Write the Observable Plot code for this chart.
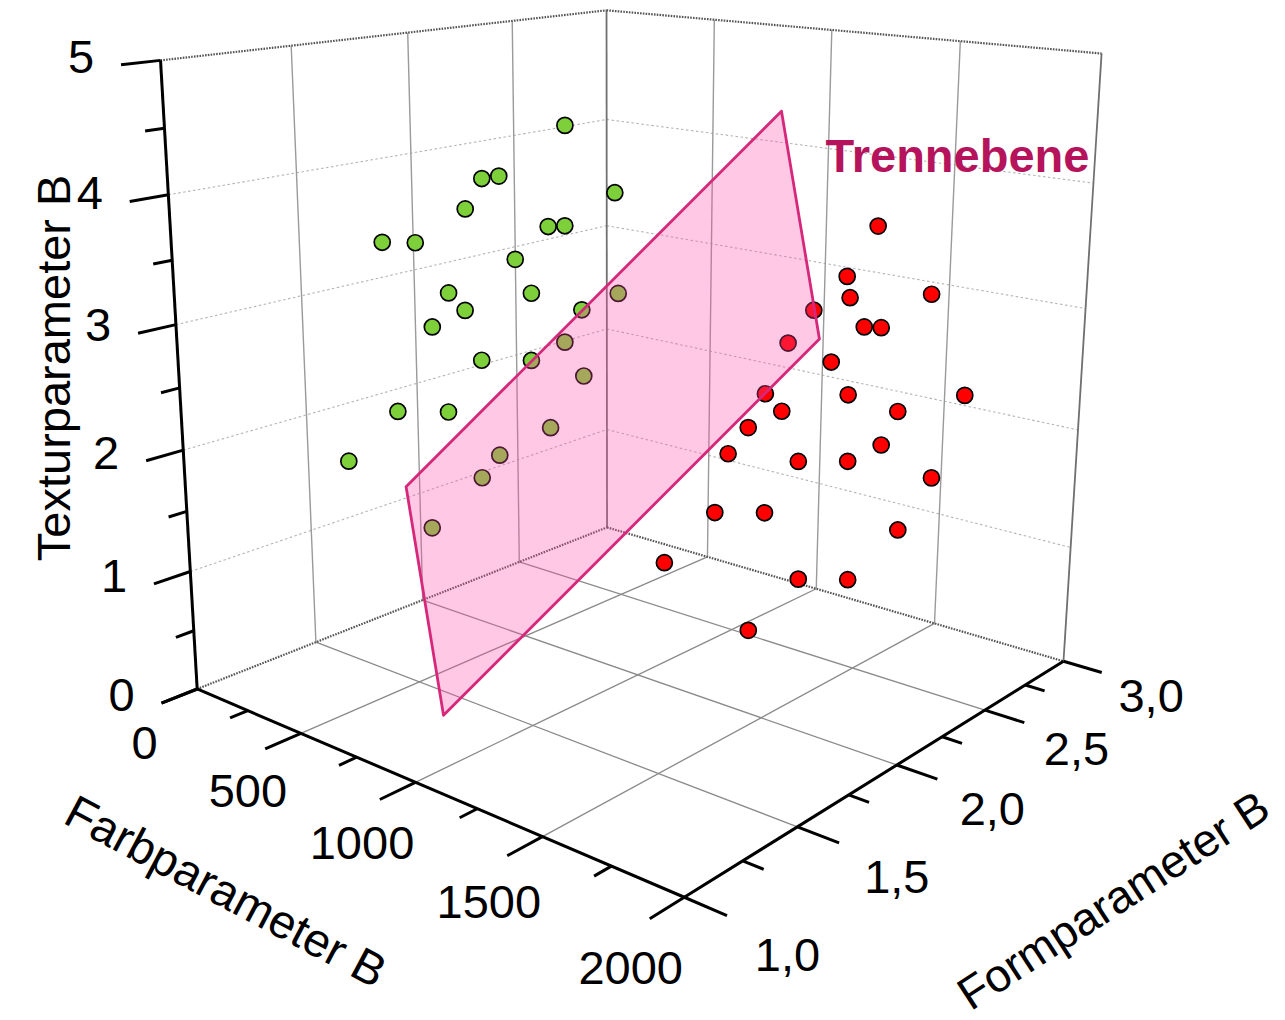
<!DOCTYPE html>
<html><head><meta charset="utf-8">
<script src="https://cdn.jsdelivr.net/npm/d3@7"></script>
<script src="https://cdn.jsdelivr.net/npm/@observablehq/plot@0.6"></script>
<style>html,body{margin:0;padding:0;background:#fff;} #chart svg{display:block}</style>
</head><body><div id="chart"></div>
<script>
// ---------------- data ----------------
const greenFarb   = [786, 624, 696, 901, 650, 805, 783, 496, 534, 760, 571, 732, 641, 852, 915, 599, 780, 610, 729, 859, 543, 559, 808, 682, 424, 603, 577];
const greenForm   = [1.9, 1.7, 1.7, 2.0, 1.6, 1.8, 1.9, 1.4, 1.5, 1.7, 1.6, 1.8, 1.6, 1.9, 2.0, 1.5, 1.9, 1.7, 1.8, 1.9, 1.4, 1.6, 1.8, 1.7, 1.3, 1.7, 1.5];
const greenTextur = [4.46, 4.07, 4.11, 3.94, 3.88, 3.72, 3.68, 3.65, 3.62, 3.49, 3.20, 3.17, 3.09, 3.04, 3.15, 2.99, 2.75, 2.63, 2.63, 2.51, 2.35, 2.24, 2.12, 1.89, 1.95, 1.66, 1.36];

const redFarb   = [1606, 1567, 1742, 1580, 1448, 1568, 1630, 1426, 1518, 1344, 1584, 1815, 1408, 1637, 1355, 1645, 1279, 1475, 1590, 1708, 1230, 1350, 1654, 1190, 1486, 1537, 1519];
const redForm   = [2.4, 2.3, 2.5, 2.3, 2.3, 2.4, 2.4, 2.2, 2.3, 2.2, 2.3, 2.6, 2.2, 2.5, 2.1, 2.4, 2.1, 2.2, 2.3, 2.6, 2.1, 2.2, 2.5, 1.9, 2.2, 2.4, 1.9];
const redTextur = [3.76, 3.40, 3.24, 3.24, 3.09, 2.96, 2.98, 2.87, 2.71, 2.43, 2.48, 2.42, 2.32, 2.26, 2.22, 2.05, 1.97, 1.95, 1.95, 1.69, 1.46, 1.46, 1.29, 1.16, 0.99, 0.87, 0.82];

// separating plane (Trennebene) corners
const planeFarb   = [996, 1123, 984, 799];
const planeForm   = [1, 1, 3, 3];
const planeTextur = [2.25, 0.62, 2.32, 4.27];

const farbTicks = [0, 500, 1000, 1500, 2000];
const farbTickLabels = ["0", "500", "1000", "1500", "2000"];
const formTicks = [1, 1.5, 2, 2.5, 3];
const formTickLabels = ["1,0", "1,5", "2,0", "2,5", "3,0"];
const texturTicks = [0, 1, 2, 3, 4, 5];
const texturTickLabels = ["0", "1", "2", "3", "4", "5"];
const farbMinor = [250, 750, 1250, 1750];
const formMinor = [1.25, 1.75, 2.25, 2.75];
const texturMinor = [0.5, 1.5, 2.5, 3.5, 4.5];

// ---------------- camera (perspective) ----------------
// calibration of the 3D box frame on the page: [Farb, Form, Textur, px, py]
const frame = [
 [0,1,0,196.7,688.5],[0,1,1,191,570],[0,1,2,183.7,449.3],[0,1,3,174.7,324],[0,1,4,166.7,194],[0,1,5,161,60],
 [500,1,0,299.3,734.3],[1000,1,0,415,782.7],[1500,1,0,542.7,836.7],[2000,1,0,683.3,896],
 [2000,1.5,0,795.7,826],[2000,2,0,896.7,764],[2000,2.5,0,985,709.3],[2000,3,0,1062.7,661],
 [0,3,0,606.7,526.7],[0,3,5,605.3,10],[2000,3,5,1101.7,53.3]
];
function solveCamera(pts){
  const A=[], b=[];
  for (const [X0,Y,Z,u0,v0] of pts){
    const X=X0/1000, u=u0/1000, v=v0/1000;
    A.push([X,Y,Z,1,0,0,0,0,-u*X,-u*Y,-u*Z]); b.push(u);
    A.push([0,0,0,0,X,Y,Z,1,-v*X,-v*Y,-v*Z]); b.push(v);
  }
  const n=11; const M=Array.from({length:n},()=>new Array(n+1).fill(0));
  for (let r=0;r<A.length;r++) for (let i=0;i<n;i++){ for(let j=0;j<n;j++) M[i][j]+=A[r][i]*A[r][j]; M[i][n]+=A[r][i]*b[r]; }
  for (let c=0;c<n;c++){ let p=c; for(let r=c+1;r<n;r++) if(Math.abs(M[r][c])>Math.abs(M[p][c])) p=r; [M[c],M[p]]=[M[p],M[c]];
    for(let r=0;r<n;r++){ if(r===c) continue; const f=M[r][c]/M[c][c]; for(let k=c;k<=n;k++) M[r][k]-=f*M[c][k]; } }
  return M.map((row,i)=>row[n]/row[i]);
}
const P = solveCamera(frame);
function proj(X0,Y,Z){ const X=X0/1000; const w=P[8]*X+P[9]*Y+P[10]*Z+1;
  return [1000*(P[0]*X+P[1]*Y+P[2]*Z+P[3])/w, 1000*(P[4]*X+P[5]*Y+P[6]*Z+P[7])/w]; }

// ---------------- build geometry ----------------
const W = 1285, H = 1020;
const S = (a,b) => ({p: proj(...a), q: proj(...b)});
const floorGrid = [
  ...[500,1000,1500].map(f => S([f,1,0],[f,3,0])),
  ...[1.5,2,2.5].map(y => S([0,y,0],[2000,y,0]))
];
const wallVert = [
  ...[1.5,2,2.5].map(y => S([0,y,0],[0,y,5])),
  ...[500,1000,1500].map(f => S([f,3,0],[f,3,5]))
];
const wallHoriz = [
  ...[1,2,3,4].map(z => S([0,1,z],[0,3,z])),
  ...[1,2,3,4].map(z => S([0,3,z],[2000,3,z]))
];
const backEdges = [ S([0,3,0],[0,3,5]), S([2000,3,0],[2000,3,5]) ];
const dottedEdges = [ S([0,1,5],[0,3,5]), S([0,3,5],[2000,3,5]), S([0,1,0],[0,3,0]), S([0,3,0],[2000,3,0]) ];
const axes = [ S([0,1,0],[0,1,5]), S([0,1,0],[2000,1,0]), S([2000,1,0],[2000,3,0]) ];
const ticks = [
  ...texturTicks.map(z => S([0,1,z],[0,0.86,z])),
  ...texturMinor.map(z => S([0,1,z],[0,0.93,z])),
  ...farbTicks.map(f => S([f,1,0],[f,0.86,0])),
  ...farbMinor.map(f => S([f,1,0],[f,0.93,0])),
  ...formTicks.map(y => S([2000,y,0],[2140,y,0])),
  ...formMinor.map(y => S([2000,y,0],[2070,y,0]))
];
const green = greenFarb.map((f,i) => proj(f, greenForm[i], greenTextur[i]));
const red = redFarb.map((f,i) => proj(f, redForm[i], redTextur[i]));
const plane = planeFarb.map((f,i) => proj(f, planeForm[i], planeTextur[i]));
const planeClosed = [...plane, plane[0]];

const zLabels = texturTicks.map((z,i) => ({p: proj(0,0.86,z), t: texturTickLabels[i]}));
const fLabels = farbTicks.map((f,i) => ({p: proj(f,0.817,-0.309), t: farbTickLabels[i]}));
const yLabels = formTicks.map((y,i) => ({p: proj(2440,y,0), t: formTickLabels[i]}));

const FONT = "Liberation Sans, Arial, Helvetica, sans-serif";
const link = (data, o) => Plot.link(data, {x1: d=>d.p[0], y1: d=>d.p[1], x2: d=>d.q[0], y2: d=>d.q[1], ...o});
const tx = (data, o) => Plot.text(data, {x: d=>d.p[0], y: d=>d.p[1], text: d=>d.t, fontFamily: FONT, fill: "#000", ...o});

const aZ = proj(0,1,2.5), aF = proj(1000,1,0), aY = proj(2000,2,0), aP = plane[3];

const chart = Plot.plot({
  width: W, height: H, margin: 0,
  x: {domain: [0, W], range: [0, W], axis: null},
  y: {domain: [0, H], range: [0, H], axis: null},
  style: {background: "#fff", fontFamily: FONT},
  marks: [
    link(floorGrid, {stroke: "#8a8a8a", strokeWidth: 1.3}),
    link(wallHoriz, {stroke: "#b4b4b4", strokeWidth: 1.1, strokeDasharray: "2.5,2.5"}),
    link(wallVert, {stroke: "#9a9a9a", strokeWidth: 1.4}),
    link(backEdges, {stroke: "#707070", strokeWidth: 1.8}),
    link(dottedEdges, {stroke: "#555", strokeWidth: 2.2, strokeDasharray: "1.6,1.2"}),
    link(axes, {stroke: "#000", strokeWidth: 3}),
    link(ticks, {stroke: "#000", strokeWidth: 3}),
    Plot.dot(green, {x: d=>d[0], y: d=>d[1], r: 8, fill: "#7ed03a", stroke: "#000", strokeWidth: 1.7}),
    Plot.dot(red, {x: d=>d[0], y: d=>d[1], r: 8, fill: "#ff0000", stroke: "#000", strokeWidth: 1.7}),
    Plot.line(planeClosed, {x: d=>d[0], y: d=>d[1], fill: "#ff48a5", fillOpacity: 0.3, stroke: "#d6287a", strokeWidth: 2.8, strokeLinejoin: "round"}),
    tx(zLabels, {dx: -40, dy: -7, fontSize: 47, textAnchor: "middle"}),
    tx(fLabels, {dx: -8, dy: 0, fontSize: 47, textAnchor: "middle"}),
    tx(yLabels, {dx: -36, dy: -1, fontSize: 47, textAnchor: "middle"}),
    Plot.text(["Texturparameter B"], {x: () => aZ[0], y: () => aZ[1], dx: -125, dy: -20, rotate: -90, fontSize: 47, fontFamily: FONT, fill: "#000", text: d=>d}),
    Plot.text(["Farbparameter B"], {x: () => aF[0], y: () => aF[1], dx: -190, dy: 110, rotate: 28, fontSize: 47, fontFamily: FONT, fill: "#000", text: d=>d}),
    Plot.text(["Formparameter B"], {x: () => aY[0], y: () => aY[1], dx: 217, dy: 136, rotate: -33, fontSize: 46, fontFamily: FONT, fill: "#000", text: d=>d}),
    Plot.text(["Trennebene"], {x: () => aP[0], y: () => aP[1], dx: 176, dy: 46, fontSize: 47, fontWeight: "bold", fontFamily: FONT, fill: "#b5135b", text: d=>d})
  ]
});
document.getElementById("chart").appendChild(chart);
</script></body></html>
